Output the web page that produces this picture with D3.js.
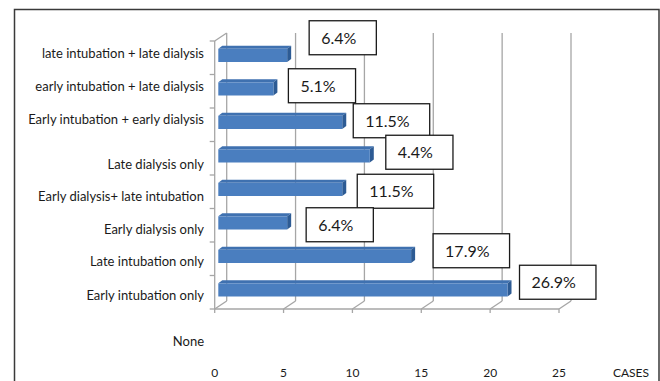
<!DOCTYPE html>
<html>
<head>
<meta charset="utf-8">
<script src="https://cdn.jsdelivr.net/npm/d3@7"></script>
<style>
  html, body { margin: 0; padding: 0; background: #fff; }
  svg { display: block; }
  text { font-family: Lato, "Open Sans", sans-serif; fill: #1a1a1a; }
</style>
</head>
<body>
<svg id="chart" width="660" height="381"></svg>
<script>
// Outcome groups (top to bottom) and number of cases in each
const categories = [
  "late intubation + late dialysis",
  "early intubation + late dialysis",
  "Early intubation + early dialysis",
  "Late dialysis only",
  "Early dialysis+ late intubation",
  "Early dialysis only",
  "Late intubation only",
  "Early intubation only",
  "None"
];
const cases = [5, 4, 9, 11, 9, 5, 14, 21, 0];
const percentLabels = ["6.4%", "5.1%", "11.5%", "4.4%", "11.5%", "6.4%", "17.9%", "26.9%", null];
const xTicks = [0, 5, 10, 15, 20, 25];
const xTitle = "CASES";

// layout
const W = 660, H = 381;
const depth = { dx: 12, dy: -8 };       // back wall offset of the 3D box
const barDepth = { dx: 4, dy: -3 };     // thickness of each bar
const barInset = 0.3;                   // bar sits 30% into the box depth
const categoryLabelShift = [-4.5, -5, -5.5, 6.5, 5, 4, 3, 3, 16];
const calloutShift = [[6, -16], [-1, -1.5], [-5, 0], [0, -2], [-1, 3.5], [3, 3.5], [6, -4], [-4, -6]];

const svg = d3.select("#chart");

const x = d3.scaleLinear().domain([0, 25]).range([214.7, 559]);
const y = d3.scaleBand().domain(categories).range([41, 41 + 33.5 * categories.length]).padding(0);

const plotCats = categories.slice(0, 8);
const floorY = y(plotCats[plotCats.length - 1]) + y.bandwidth();
const topY = y(plotCats[0]);

// outer frame
svg.append("path")
  .attr("d", `M14.5,${H + 2} V9.5 H659 V${H + 2}`)
  .attr("fill", "none").attr("stroke", "#3a3a3a").attr("stroke-width", 1.5);

const grid = svg.append("g").attr("stroke", "#a6a6a6").attr("stroke-width", 1.3).attr("fill", "none");

// back wall gridlines
grid.selectAll("line.back").data(xTicks).join("line")
  .attr("class", "back")
  .attr("x1", d => x(d) + depth.dx).attr("x2", d => x(d) + depth.dx)
  .attr("y1", topY + depth.dy).attr("y2", floorY + depth.dy);

// floor depth lines
grid.selectAll("line.floor").data(xTicks).join("line")
  .attr("class", "floor")
  .attr("x1", d => x(d)).attr("x2", d => x(d) + depth.dx)
  .attr("y1", floorY).attr("y2", floorY + depth.dy);

// front axes
grid.append("line").attr("x1", x(0)).attr("x2", x(25)).attr("y1", floorY).attr("y2", floorY);
grid.append("line").attr("x1", x(0)).attr("x2", x(0)).attr("y1", topY).attr("y2", floorY);
grid.append("line").attr("x1", x(0)).attr("x2", x(0) + depth.dx).attr("y1", topY).attr("y2", topY + depth.dy);

// tick marks
grid.selectAll("line.xt").data(xTicks).join("line")
  .attr("class", "xt")
  .attr("x1", d => x(d)).attr("x2", d => x(d))
  .attr("y1", floorY).attr("y2", floorY + 4);
grid.selectAll("line.yt").data(plotCats.map(c => y(c)).concat([floorY])).join("line")
  .attr("class", "yt")
  .attr("x1", x(0) - 5).attr("x2", x(0))
  .attr("y1", d => d).attr("y2", d => d);

// bars
const bx0 = depth.dx * barInset, by0 = depth.dy * barInset;
const frontTop = 7.8, frontH = 13.2;
const barData = categories.map((c, i) => ({ c, v: cases[i], i })).filter(d => d.v > 0);
const bars = svg.append("g").selectAll("g").data(barData).join("g");

bars.append("path") // top face
  .attr("d", d => {
    const l = x(0) + bx0, r = x(d.v) + bx0, t = y(d.c) + frontTop - by0 * 0 + by0 + 2.4;
    return `M${l},${t} L${l + barDepth.dx},${t + barDepth.dy} L${r + barDepth.dx},${t + barDepth.dy} L${r},${t} Z`;
  })
  .attr("fill", "#3f71b0");
bars.append("path") // side face
  .attr("d", d => {
    const r = x(d.v) + bx0, t = y(d.c) + frontTop + by0 + 2.4, b = t + frontH;
    return `M${r},${t} L${r + barDepth.dx},${t + barDepth.dy} L${r + barDepth.dx},${b + barDepth.dy} L${r},${b} Z`;
  })
  .attr("fill", "#2d5b94");
bars.append("rect") // front face
  .attr("x", x(0) + bx0)
  .attr("y", d => y(d.c) + frontTop + by0 + 2.4)
  .attr("width", d => x(d.v) - x(0))
  .attr("height", frontH)
  .attr("fill", "#4a7ebf");

// category labels
svg.append("g").selectAll("text").data(categories).join("text")
  .attr("x", 204)
  .attr("y", (d, i) => y(d) + y.bandwidth() / 2 + categoryLabelShift[i])
  .attr("dy", "0.35em")
  .attr("text-anchor", "end")
  .attr("font-size", 13)
  .text(d => d);

// value axis labels
svg.append("g").selectAll("text").data(xTicks).join("text")
  .attr("x", d => x(d))
  .attr("y", 376.5)
  .attr("text-anchor", "middle")
  .attr("font-size", 12)
  .text(d => d);
svg.append("text").attr("x", 631).attr("y", 376.5).attr("text-anchor", "middle")
  .attr("font-size", 12).text(xTitle);

// percentage callouts
const callouts = svg.append("g").selectAll("g")
  .data(barData.filter(d => percentLabels[d.i]))
  .join("g");
callouts.each(function (d) {
  const g = d3.select(this);
  const [sx, sy] = calloutShift[d.i];
  const left = x(d.v) + bx0 + barDepth.dx + 12 + sx;
  const cy = y(d.c) + y.bandwidth() / 2 + sy - 4;
  const t = g.append("text")
    .attr("x", left + 12).attr("y", cy).attr("dy", "0.36em")
    .attr("font-size", 16).text(percentLabels[d.i]);
  const w = t.node().getComputedTextLength();
  g.insert("rect", "text")
    .attr("x", left).attr("y", cy - 17)
    .attr("width", w + 32).attr("height", 34)
    .attr("fill", "#fff").attr("stroke", "#1a1a1a").attr("stroke-width", 1.3);
});
</script>
</body>
</html>
